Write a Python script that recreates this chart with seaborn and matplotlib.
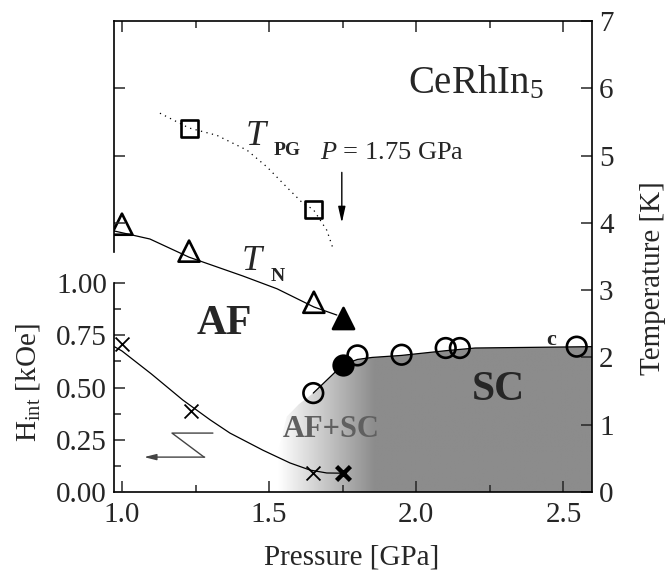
import numpy as np
import matplotlib
matplotlib.use("Agg")
import matplotlib.pyplot as plt
import seaborn as sns
from matplotlib.path import Path
from matplotlib.patches import PathPatch
from matplotlib.colors import LinearSegmentedColormap

# ---------------- data ----------------
# Neel temperature T_N (open triangles) and the point at 1.75 GPa (filled)
tn_p = [1.00, 1.228, 1.652]
tn_t = [3.98, 3.58, 2.82]
tn_fill_p = [1.75]
tn_fill_t = [2.58]
# guide line through T_N
tn_line_p = [0.973, 1.095, 1.228, 1.411, 1.527, 1.652, 1.73]
tn_line_t = [3.88, 3.76, 3.49, 3.21, 3.02, 2.75, 2.63]

# pseudogap T_PG (open squares) and dotted guide
pg_p = [1.228, 1.65]
pg_t = [5.40, 4.20]
pg_line_p = [1.129, 1.228, 1.323, 1.425, 1.493, 1.56, 1.615, 1.65, 1.696, 1.717]
pg_line_t = [5.63, 5.41, 5.30, 5.08, 4.83, 4.53, 4.29, 4.20, 3.89, 3.62]

# superconducting Tc (open circles) and filled point at 1.75 GPa
tc_p = [1.65, 1.80, 1.95, 2.10, 2.148, 2.545]
tc_t = [1.47, 2.03, 2.04, 2.14, 2.14, 2.16]
tc_fill_p = [1.75]
tc_fill_t = [1.89]
tc_line_p = [1.65, 1.75, 1.80, 1.85, 1.95, 2.10, 2.20, 2.597]
tc_line_t = [1.47, 1.89, 1.97, 2.00, 2.03, 2.10, 2.14, 2.16]

# internal field H_int (crosses, left axis)
h_p = [1.00, 1.234, 1.65]
h_v = [0.71, 0.39, 0.09]
h_bold_p = [1.75]
h_bold_v = [0.09]
h_line_p = [0.975, 1.0, 1.1, 1.207, 1.3, 1.367, 1.479, 1.571, 1.639, 1.696, 1.75]
h_line_v = [0.695, 0.675, 0.565, 0.44, 0.345, 0.282, 0.20, 0.139, 0.105, 0.091, 0.09]

x_ticks = [1.0, 1.5, 2.0, 2.5]
x_ticklabels = ["1.0", "1.5", "2.0", "2.5"]
t_ticks = [0, 1, 2, 3, 4, 5, 6, 7]
h_ticks = [0.00, 0.25, 0.50, 0.75, 1.00]
h_ticklabels = ["0.00", "0.25", "0.50", "0.75", "1.00"]

# ---------------- style ----------------
sns.set_theme(style="ticks")
plt.rcParams["font.family"] = ["Liberation Serif", "DejaVu Serif"]
plt.rcParams["mathtext.fontset"] = "custom"
plt.rcParams["mathtext.rm"] = "Liberation Serif"
plt.rcParams["mathtext.it"] = "Liberation Serif:italic"
plt.rcParams["mathtext.bf"] = "Liberation Serif:bold"
plt.rcParams["axes.linewidth"] = 1.2

FS = 21
W, H = 669, 577
fig = plt.figure(figsize=(W / 100, H / 100), dpi=100)
L, R, T, B = 114, 592, 21, 492
ax = fig.add_axes([L / W, 1 - B / H, (R - L) / W, (B - T) / H])

XLIM = (0.973, 2.597)
TLIM = (0, 7)

ax.set_xlim(*XLIM)
ax.set_ylim(*TLIM)

# ---------- gradient grey SC region ----------
gx = np.linspace(XLIM[0], XLIM[1], 600)
frac = np.clip((gx - 1.53) / (1.86 - 1.53), 0, 1)
img = np.tile(frac, (2, 1))
cmap = LinearSegmentedColormap.from_list("wg", ["#ffffff", "#8c8c8c"])
im = ax.imshow(img, extent=[XLIM[0], XLIM[1], 0, 2.4], origin="lower",
               aspect="auto", cmap=cmap, vmin=0, vmax=1, zorder=0.5,
               interpolation="bilinear")
poly = [(1.53, 0.0), (1.53, 0.6), (1.56, 1.12), (1.60, 1.30)]
poly += list(zip(tc_line_p, tc_line_t))
poly += [(XLIM[1], tc_line_t[-1]), (XLIM[1], 0.0)]
clip = PathPatch(Path(poly), transform=ax.transData, facecolor="none", edgecolor="none")
ax.add_patch(clip)
im.set_clip_path(clip)

# ---------- temperature data ----------
lw_line = 0.9
sns.lineplot(x=tn_line_p, y=tn_line_t, ax=ax, color="black", lw=lw_line, sort=False, zorder=3)
sns.lineplot(x=pg_line_p, y=pg_line_t, ax=ax, color="black", lw=0.9, sort=False,
             linestyle=(0, (1, 3.5)), zorder=3)
sns.lineplot(x=tc_line_p, y=tc_line_t, ax=ax, color="black", lw=lw_line, sort=False, zorder=3)

mk_lw = 1.9
sns.scatterplot(x=tn_p, y=tn_t, ax=ax, marker="^", s=230, facecolor="none",
                edgecolor="black", linewidth=mk_lw, zorder=4)
sns.scatterplot(x=tn_fill_p, y=tn_fill_t, ax=ax, marker="^", s=230, facecolor="black",
                edgecolor="black", linewidth=mk_lw, zorder=4)
sns.scatterplot(x=pg_p, y=pg_t, ax=ax, marker="s", s=150, facecolor="none",
                edgecolor="black", linewidth=mk_lw, zorder=4)
sns.scatterplot(x=tc_p, y=tc_t, ax=ax, marker="o", s=200, facecolor="none",
                edgecolor="black", linewidth=mk_lw, zorder=4)
sns.scatterplot(x=tc_fill_p, y=tc_fill_t, ax=ax, marker="o", s=200, facecolor="black",
                edgecolor="black", linewidth=mk_lw, zorder=4)

# ---------- upper-left spine with unlabelled T ticks ----------
axu = ax.twinx()
axu.set_ylim(*TLIM)
axu.yaxis.tick_left()
axu.set_yticks([4, 5, 6])
axu.set_yticklabels([])
axu.tick_params(axis="y", direction="in", length=8, width=1.1)
for s in ["top", "right", "bottom"]:
    axu.spines[s].set_visible(False)
axu.spines["left"].set_bounds(3.57, 7)
axu.spines["left"].set_color("black")
axu.spines["left"].set_linewidth(1.2)

# ---------- H_int axis (left, lower part) ----------
axh = ax.twinx()
axh.set_ylim(0, 7 / 3.105)
axh.yaxis.tick_left()
axh.yaxis.set_label_position("left")
axh.set_yticks(h_ticks)
axh.set_yticklabels(h_ticklabels)
axh.set_yticks([0.125, 0.375, 0.625, 0.875], minor=True)
axh.tick_params(axis="y", which="both", direction="in", labelsize=FS, width=1.1, pad=5)
axh.tick_params(axis="y", which="major", length=8)
axh.tick_params(axis="y", which="minor", length=5)
for s in ["top", "right", "bottom"]:
    axh.spines[s].set_visible(False)
axh.spines["left"].set_bounds(0, 1)
axh.spines["left"].set_color("black")
axh.spines["left"].set_linewidth(1.2)
axh.set_ylabel(r"H$_{\mathrm{int}}$ [kOe]", fontsize=FS)
axh.yaxis.set_label_coords(-0.15, 0.231)

sns.lineplot(x=h_line_p, y=h_line_v, ax=axh, color="black", lw=lw_line, sort=False, zorder=3)
sns.scatterplot(x=h_p, y=h_v, ax=axh, marker="x", s=100, color="black", linewidth=1.3, zorder=4)
sns.scatterplot(x=h_bold_p, y=h_bold_v, ax=axh, marker="x", s=100, color="black", linewidth=3.2, zorder=4)
axh.set_xlim(*XLIM)

# zig-zag symbol + arrow pointing to the left axis
axh.plot([1.309, 1.170, 1.279], [0.282, 0.282, 0.167], color="#444444", lw=1.0)
axh.annotate("", xy=(1.075, 0.167), xytext=(1.281, 0.167),
             arrowprops=dict(arrowstyle="-|>,head_length=0.6,head_width=0.15",
                             color="#444444", lw=1.0, shrinkA=0, shrinkB=0))

# ---------- main axes styling (temperature axis on the right) ----------
ax.set_xticks(x_ticks)
ax.set_xticklabels(x_ticklabels)
ax.set_xticks([1.25, 1.75, 2.25], minor=True)
ax.yaxis.tick_right()
ax.set_yticks(t_ticks)
ax.set_yticklabels([str(t) for t in t_ticks])
ax.tick_params(axis="x", which="both", direction="in", top=True, bottom=True,
               labelsize=FS, pad=7, width=1.1)
ax.tick_params(axis="x", which="major", length=8)
ax.tick_params(axis="x", which="minor", length=5)
ax.tick_params(axis="y", which="both", direction="in", left=False, labelleft=False,
               right=True, labelright=True, labelsize=FS, length=8, width=1.1, pad=5)
ax.spines["left"].set_visible(False)
for s in ["top", "right", "bottom"]:
    ax.spines[s].set_color("black")
ax.set_xlabel("Pressure [GPa]", fontsize=FS)
ax.xaxis.set_label_coords(0.498, -0.112)
ax.yaxis.set_label_position("right")
ax.set_ylabel("Temperature [K]", fontsize=FS, rotation=90)
ax.yaxis.set_label_coords(1.10, 0.454)

# ---------- texts ----------
ax.text(1.971, 5.93, r"CeRhIn$_5$", fontsize=28, ha="left", va="baseline", zorder=6)
ax.text(1.418, 5.16, r"$\mathit{T}$", fontsize=26, ha="left", va="baseline")
ax.text(1.515, 5.01, "PG", fontsize=14, fontweight="bold", ha="left", va="baseline")
ax.text(1.673, 4.95, r"$\mathit{P}$ = 1.75 GPa", fontsize=19, ha="left", va="baseline")
ax.annotate("", xy=(1.747, 4.0), xytext=(1.747, 4.75),
            arrowprops=dict(arrowstyle="-|>,head_length=0.8,head_width=0.18",
                            color="black", lw=1.0, shrinkA=0, shrinkB=0))
ax.text(1.405, 3.30, r"$\mathit{T}$", fontsize=26, ha="left", va="baseline")
ax.text(1.505, 3.14, "N", fontsize=14, fontweight="bold", ha="left", va="baseline")
ax.text(1.255, 2.35, "AF", fontsize=30, fontweight="bold", ha="left", va="baseline")
ax.text(2.189, 1.37, "SC", fontsize=30, fontweight="bold", ha="left", va="baseline", zorder=6)
ax.text(1.547, 0.82, "AF+SC", fontsize=22, fontweight="bold", color="#606060",
        ha="left", va="baseline", zorder=6)
ax.text(2.44, 2.18, "c", fontsize=16, fontweight="bold", ha="left", va="baseline")

fig.savefig("out.png", dpi=100)
